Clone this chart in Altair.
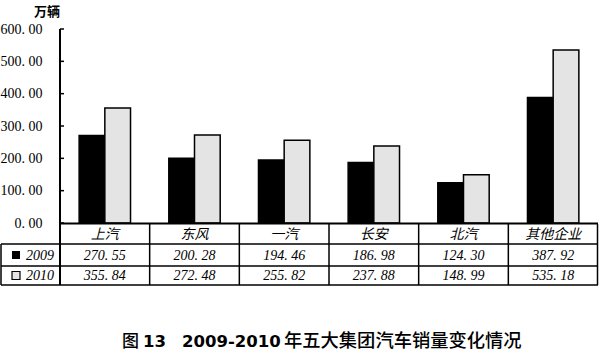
import altair as alt
import pandas as pd

categories = ["上汽", "东风", "一汽", "长安", "北汽", "其他企业"]
years = ["2009", "2010"]
sales_2009 = [270.55, 200.28, 194.46, 186.98, 124.30, 387.92]
sales_2010 = [355.84, 272.48, 255.82, 237.88, 148.99, 535.18]
y_ticks = [0, 100, 200, 300, 400, 500, 600]

rows = []
for c, a, b in zip(categories, sales_2009, sales_2010):
    rows.append({"category": c, "year": "2009", "value": a})
    rows.append({"category": c, "year": "2010", "value": b})
df = pd.DataFrame(rows)
cat_df = pd.DataFrame({"category": categories})
tick_df = pd.DataFrame({"tick": y_ticks})
year_df = pd.DataFrame({"year": years})

W, H = 538, 194
PAT = "#e4e4e4"
fmt = "replace(format(datum.value, '.2f'), '.', '. ')"

y_axis = alt.Axis(values=y_ticks, labelExpr=fmt, tickSize=0, domain=False,
                  grid=False, labelPadding=18, labelFont="Liberation Serif",
                  labelFontSize=14, labelColor="black", title=None,
                  labelOverlap=False, labelBound=False, tickCount=7)
y_scale = alt.Scale(domain=[0, 600], nice=False, zero=True)

xcat = alt.X("category:N", sort=categories,
             scale=alt.Scale(paddingInner=0, paddingOuter=0), axis=None)

bars = alt.Chart(df).mark_bar(stroke="black", strokeWidth=1.5).encode(
    x=xcat,
    xOffset=alt.XOffset("year:N", sort=years,
                        scale=alt.Scale(paddingInner=0, paddingOuter=0.745)),
    y=alt.Y("value:Q", scale=y_scale, axis=y_axis),
    fill=alt.Fill("year:N", scale=alt.Scale(domain=years, range=["black", PAT]),
                  legend=None),
)

ticks = alt.Chart(tick_df).mark_rule(color="black", strokeWidth=1.5).encode(
    x=alt.value(0), x2=alt.value(4), y=alt.Y("tick:Q", scale=y_scale, axis=y_axis))

one = alt.Data(values=[{"a": 1}])

def rule(x, x2=None, y=None, y2=None, sw=1.5):
    enc = {"x": alt.value(x), "y": alt.value(y)}
    if x2 is not None:
        enc["x2"] = alt.value(x2)
    if y2 is not None:
        enc["y2"] = alt.value(y2)
    return alt.Chart(one).mark_rule(color="black", strokeWidth=sw).encode(**enc)

axis_line = rule(0, y=0, y2=256, sw=2)
baseline = rule(0, x2=W, y=194.5, sw=2)
h1 = rule(-59, x2=W, y=215, sw=1.5)
h2 = rule(-59, x2=W, y=237, sw=1.5)
h3 = rule(-59, x2=W, y=256, sw=1.5)
left_border = rule(-59, y=215, y2=256, sw=1.5)
right_border = rule(W - 0.5, y=195, y2=256, sw=1.5)

vlines = alt.Chart(cat_df).mark_rule(color="black", strokeWidth=1.5).encode(
    x=alt.X("category:N", sort=categories, bandPosition=0,
            scale=alt.Scale(paddingInner=0, paddingOuter=0), axis=None),
    y=alt.value(195), y2=alt.value(256))

cat_text = alt.Chart(cat_df).mark_text(
    font="Noto Sans CJK SC", fontSize=14, fontStyle="italic", color="black",
    baseline="middle").encode(
    x=alt.X("category:N", sort=categories, bandPosition=0.5,
            scale=alt.Scale(paddingInner=0, paddingOuter=0), axis=None),
    y=alt.value(205.5), text="category:N")

def value_row(yr, ypix):
    return alt.Chart(df).transform_filter(
        alt.datum.year == yr
    ).transform_calculate(
        label="replace(format(datum.value, '.2f'), '.', '. ')"
    ).mark_text(font="Liberation Serif", fontSize=14, fontStyle="italic",
                color="black", baseline="middle").encode(
        x=alt.X("category:N", sort=categories, bandPosition=0.5,
                scale=alt.Scale(paddingInner=0, paddingOuter=0), axis=None),
        y=alt.value(ypix), text="label:N")

row09 = value_row("2009", 226.5)
row10 = value_row("2010", 246.5)

sw09 = alt.Chart(one).mark_rect(fill="black").encode(
    x=alt.value(-48), x2=alt.value(-40), y=alt.value(222), y2=alt.value(230))
sw10 = alt.Chart(one).mark_rect(fill=PAT, stroke="black", strokeWidth=1.2).encode(
    x=alt.value(-48), x2=alt.value(-40), y=alt.value(242.5), y2=alt.value(250.5))

def year_label(yr, ypix):
    return alt.Chart(year_df).transform_filter(alt.datum.year == yr).mark_text(
        font="Liberation Serif", fontSize=14, fontStyle="italic", color="black",
        align="left", baseline="middle").encode(
        x=alt.value(-34), y=alt.value(ypix), text="year:N")

yl09 = year_label("2009", 226.5)
yl10 = year_label("2010", 246.5)

unit = alt.Chart(one).mark_text(
    text="万辆", font="Noto Sans CJK SC", fontSize=13, fontWeight="bold",
    color="black", baseline="middle", align="center").encode(
    x=alt.value(-13), y=alt.value(-17))

def title_part(txt, x, font, size, weight):
    return alt.Chart(one).mark_text(
        text=txt, font=font, fontSize=size, fontWeight=weight, color="black",
        align="left", baseline="middle").encode(x=alt.value(x), y=alt.value(313))

t1 = title_part("图", 62, "Noto Sans CJK SC", 17, 500)
t2 = title_part("13", 83, "DejaVu Sans", 16.5, "bold")
t3 = title_part("2009-2010", 122, "DejaVu Sans", 16.5, "bold")
t4 = title_part("年五大集团汽车销量变化情况", 224, "Noto Sans CJK SC", 18.3, 500)

chart = alt.layer(
    bars, ticks, axis_line, baseline, h1, h2, h3, left_border, right_border,
    vlines, cat_text, row09, row10, sw09, sw10, yl09, yl10, unit,
    t1, t2, t3, t4
).properties(
    width=W, height=H,
    autosize=alt.AutoSizeParams(type="none"),
    padding={"left": 60, "top": 29, "right": 2, "bottom": 131},
    background="white",
).configure_view(stroke=None).configure_axis(
    labelFont="Liberation Serif", labelFontSize=14, labelColor="black")

chart.save("out.html", embed_options={"renderer": "svg", "actions": False})
